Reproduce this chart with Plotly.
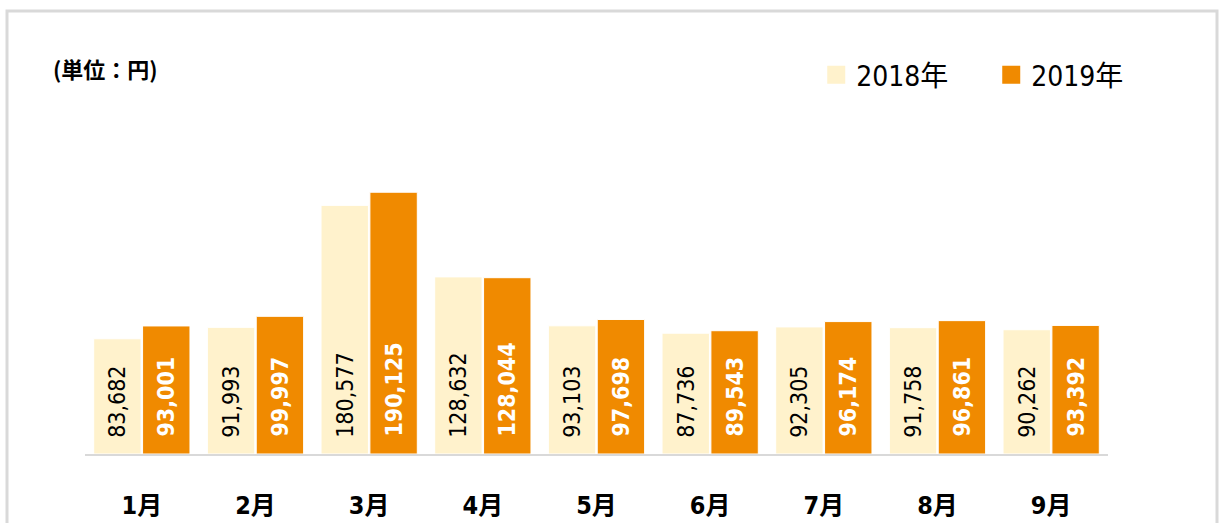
import plotly.graph_objects as go

months = ["1月", "2月", "3月", "4月", "5月", "6月", "7月", "8月", "9月"]
v2018 = [83682, 91993, 180577, 128632, 93103, 87736, 92305, 91758, 90262]
v2019 = [93001, 99997, 190125, 128044, 97698, 89543, 96174, 96861, 93392]
series_names = ["2018年", "2019年"]
colors = ["#FFF2CC", "#F08A00"]

NUM_FONT = "DejaVu Sans Condensed, Noto Sans CJK JP, sans-serif"
PAD = "\u00a0\u00a0"

def fmt(v):
    return PAD + f"{v:,}"

fig = go.Figure()
fig.add_trace(go.Bar(
    x=months, y=v2018, name=series_names[0], showlegend=False,
    marker=dict(color=colors[0], line=dict(color="white", width=1)),
    text=[fmt(v) for v in v2018], textposition="inside", insidetextanchor="start",
    textangle=-90, constraintext="none",
    textfont=dict(family=NUM_FONT, size=23, color="#000000"),
    hoverinfo="skip",
))
fig.add_trace(go.Bar(
    x=months, y=v2019, name=series_names[1], showlegend=False,
    marker=dict(color=colors[1], line=dict(color="white", width=1)),
    text=[fmt(v) for v in v2019], textposition="inside", insidetextanchor="start",
    textangle=-90, constraintext="none",
    textfont=dict(family=NUM_FONT, size=23, color="#FFFFFF", weight="bold"),
    hoverinfo="skip",
))
# legend entries
for nm, c in zip(series_names, colors):
    fig.add_trace(go.Scatter(
        x=[None], y=[None], mode="markers", name=nm,
        marker=dict(symbol="square", size=16, color=c, line=dict(color=c, width=2)),
    ))

L, R, T, B = 85, 113, 85, 69
W, H = 1221, 523
ph = H - T - B
pw = W - L - R

def px_x(p):
    return (p - L) / pw

def px_y(p):
    return (H - B - p) / ph

fig.update_layout(
    width=W, height=H,
    margin=dict(l=L, r=R, t=T, b=B, pad=0, autoexpand=False),
    plot_bgcolor="white", paper_bgcolor="white",
    barmode="group", bargap=0.14, bargroupgap=0.03,
    showlegend=True,
    legend=dict(
        orientation="h", xref="container", yref="container",
        x=0.6685, y=1 - 75 / H, xanchor="left", yanchor="middle",
        font=dict(family=NUM_FONT, size=28, color="#000000"),
        itemsizing="trace", entrywidth=130, entrywidthmode="pixels",
        bgcolor="rgba(0,0,0,0)",
    ),
    xaxis=dict(
        showline=True, linecolor="#D9D9D9", linewidth=2,
        showgrid=False, ticks="", ticklabelstandoff=28, automargin=False,
        tickfont=dict(family=NUM_FONT, size=25, color="#000000", weight="bold"),
        fixedrange=True,
    ),
    yaxis=dict(
        range=[0, 268000], visible=False, showgrid=False, zeroline=False,
        fixedrange=True, automargin=False,
    ),
    annotations=[dict(
        text="<b>(単位：円)</b>", xref="paper", yref="paper",
        x=px_x(51), y=px_y(68), xanchor="left", yanchor="middle",
        showarrow=False,
        font=dict(family="Noto Sans CJK JP, sans-serif", size=22, color="#000000"),
    )],
    shapes=[dict(
        type="rect", xref="paper", yref="paper",
        x0=px_x(7), x1=px_x(1217), y0=px_y(560), y1=px_y(11),
        line=dict(color="#D9D9D9", width=3), fillcolor="rgba(0,0,0,0)",
        layer="below",
    )],
)

fig.write_html("out.html", config={"displayModeBar": False})
